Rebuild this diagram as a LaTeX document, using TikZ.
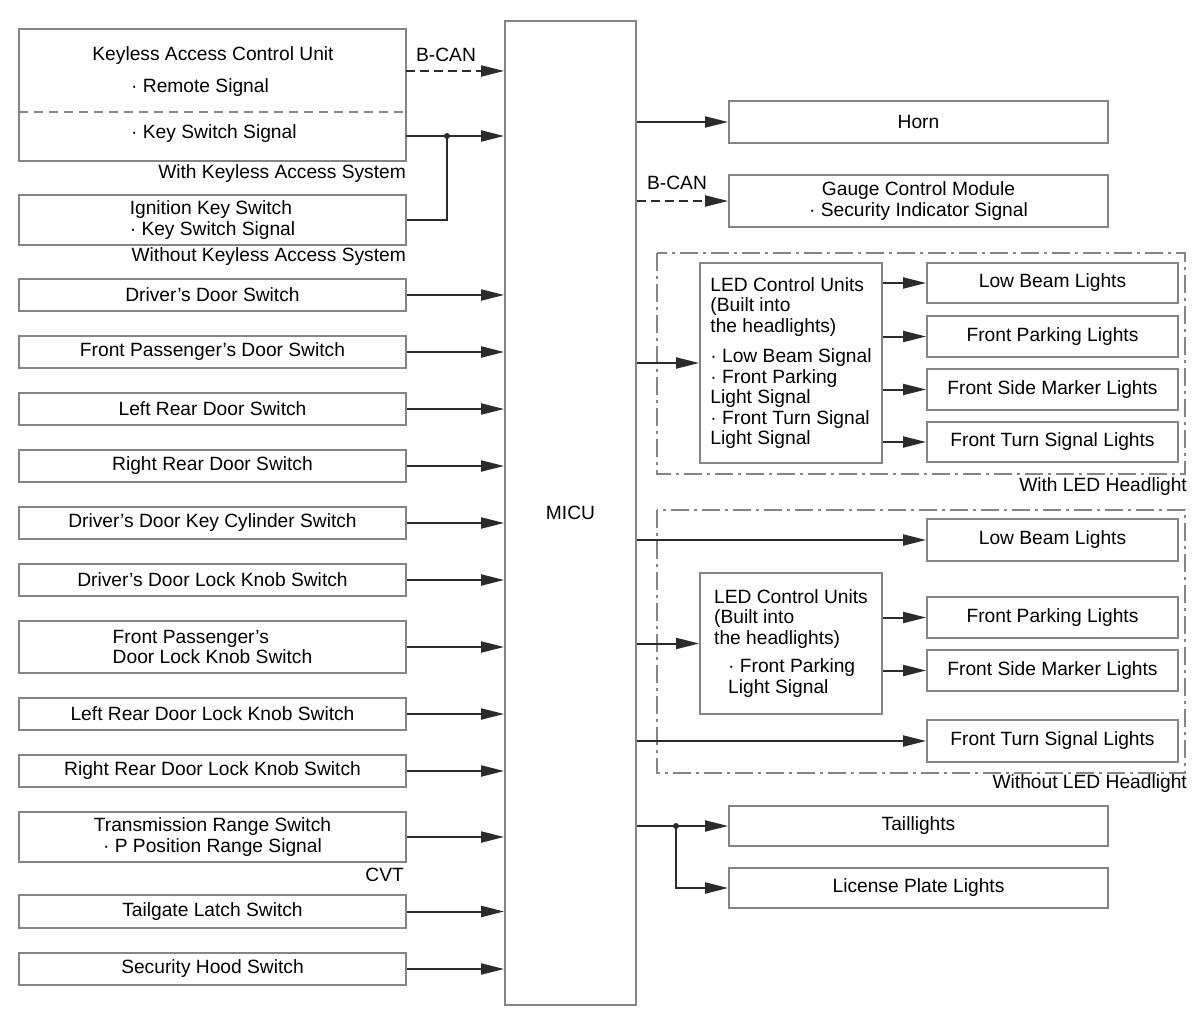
\documentclass[tikz,border=0pt]{standalone}
\usepackage{fontspec}
\setmainfont{Liberation Sans}
\usetikzlibrary{arrows.meta}
\definecolor{boxgray}{HTML}{858585}
\definecolor{linedark}{HTML}{2B2B2B}
\newcommand\fs{\fontsize{19.2}{20.5}\selectfont}
\newcommand\bx[7][]{\node[box,#1,minimum width={#5-#3},minimum height={#6-#4}] (#2) at ({(#3+#5)/2},{(#4+#6)/2}) {#7};}
\begin{document}
\begin{tikzpicture}[x=1pt,y=-1pt,
  box/.style={draw=boxgray,line width=1.8pt,inner sep=0pt,align=center,font=\fs},
  ledbox/.style={align=left},
  lbl/.style={inner sep=0pt,font=\fs},
  arr/.style={draw=linedark,line width=2pt,-{Triangle[length=23pt,width=11pt]}},
  can/.style={arr,dash pattern=on 9pt off 5pt},
  wire/.style={draw=linedark,line width=2pt},
  grp/.style={draw=boxgray,line width=1.5pt,dash pattern=on 18pt off 5pt on 3pt off 5pt},
  jdot/.style={circle,fill=linedark,inner sep=0pt,minimum size=6pt}]
\useasboundingbox (0,0) rectangle (1200,1035);

% MICU
\bx{micu}{505}{21}{636}{1005}{MICU}

% Left side
\bx{kacu}{19}{29}{406}{161}{}
\node[lbl] (kacut) at (213,56) {Keyless Access Control Unit};
\node[lbl,anchor=west] (remote) at (131,88) {· Remote Signal};
\node[lbl,anchor=west] (keysw) at (131,134) {· Key Switch Signal};
\coordinate (divl) at (19,112);
\coordinate (divr) at (406,112);
\draw[boxgray,line width=1.5pt,dash pattern=on 9pt off 6pt] (divl) -- (divr);
\node[lbl,anchor=east] (withkas) at (406,174) {With Keyless Access System};

\bx[align=left]{ign}{19}{195}{406}{245}{Ignition Key Switch\\· Key Switch Signal}
\node[lbl,anchor=east] (withoutkas) at (406,257) {Without Keyless Access System};

\bx{dds}{19}{279}{406}{311}{Driver’s Door Switch}
\bx{fpds}{19}{336}{406}{368}{Front Passenger’s Door Switch}
\bx{lrds}{19}{393}{406}{425}{Left Rear Door Switch}
\bx{rrds}{19}{450}{406}{482}{Right Rear Door Switch}
\bx{ddkc}{19}{507}{406}{539}{Driver’s Door Key Cylinder Switch}
\bx{ddlk}{19}{564}{406}{596}{Driver’s Door Lock Knob Switch}
\bx[align=left]{fplk}{19}{621}{406}{673}{Front Passenger’s\\Door Lock Knob Switch}
\bx{lrlk}{19}{698}{406}{730}{Left Rear Door Lock Knob Switch}
\bx{rrlk}{19}{755}{406}{787}{Right Rear Door Lock Knob Switch}
\bx{trs}{19}{812}{406}{862}{Transmission Range Switch\\· P Position Range Signal}
\node[lbl,anchor=east] (cvt) at (404,875) {CVT};
\bx{tls}{19}{895}{406}{928}{Tailgate Latch Switch}
\bx{shs}{19}{953}{406}{985}{Security Hood Switch}

% Left connectors
\coordinate (canA) at (406,71);
\draw[can] (canA) -- (micu.west |- canA);
\node[lbl] (bcan1) at (446,55) {B-CAN};
\coordinate (ksA) at (406,136);
\coordinate (ksJ) at (447,136);
\draw[arr] (ksA) -- (micu.west |- ksA);
\draw[wire] (ign.east) -| (ksJ);
\node[jdot] (ksdot) at (ksJ) {};
\foreach \n in {dds,fpds,lrds,rrds,ddkc,ddlk,fplk,lrlk,rrlk,trs,tls,shs}
  \draw[arr] (\n.east) -- (micu.west |- \n.east);

% Right side
\bx{horn}{729}{101}{1108}{143}{Horn}
\bx{gauge}{729}{175}{1108}{227}{Gauge Control Module\\· Security Indicator Signal}
\draw[arr] (micu.east |- horn.west) -- (horn.west);
\draw[can] (micu.east |- gauge.west) -- (gauge.west);
\node[lbl] (bcan2) at (677,183) {B-CAN};

% With LED headlight group
\coordinate (g1a) at (657,253);
\coordinate (g1b) at (1185,474);
\draw[grp] (g1a) rectangle (g1b);
\node[lbl,anchor=east] (withled) at (1187,487) {With LED Headlight};
\bx[ledbox]{ledA}{700}{263}{882}{463}{LED Control Units\\(Built into\\the headlights)\\[10pt]· Low Beam Signal\\· Front Parking\\Light Signal\\· Front Turn Signal\\Light Signal}
\bx{lbA}{927}{263}{1178}{303}{Low Beam Lights}
\bx{fpA}{927}{316}{1178}{357}{Front Parking Lights}
\bx{fsA}{927}{369}{1178}{410}{Front Side Marker Lights}
\bx{ftA}{927}{422}{1178}{462}{Front Turn Signal Lights}
\draw[arr] (micu.east |- ledA.west) -- (ledA.west);
\foreach \n in {lbA,fpA,fsA,ftA}
  \draw[arr] (ledA.east |- \n.west) -- (\n.west);

% Without LED headlight group
\coordinate (g2a) at (657,510);
\coordinate (g2b) at (1185,773);
\draw[grp] (g2a) rectangle (g2b);
\node[lbl,anchor=east] (withoutled) at (1187,784) {Without LED Headlight};
\bx{lbB}{927}{519}{1178}{561}{Low Beam Lights}
\bx[ledbox]{ledB}{700}{573}{882}{714}{LED Control Units\\(Built into\\the headlights)\\[8pt]\hspace*{14pt}· Front Parking\\\hspace*{14pt}Light Signal}
\bx{fpB}{927}{597}{1178}{638}{Front Parking Lights}
\bx{fsB}{927}{650}{1178}{691}{Front Side Marker Lights}
\bx{ftB}{927}{720}{1178}{762}{Front Turn Signal Lights}
\draw[arr] (micu.east |- lbB.west) -- (lbB.west);
\draw[arr] (micu.east |- ledB.west) -- (ledB.west);
\draw[arr] (ledB.east |- fpB.west) -- (fpB.west);
\draw[arr] (ledB.east |- fsB.west) -- (fsB.west);
\draw[arr] (micu.east |- ftB.west) -- (ftB.west);

% Tail / license
\bx{tail}{729}{806}{1108}{846}{Taillights}
\bx{lic}{729}{868}{1108}{908}{License Plate Lights}
\coordinate (tJ) at (676,826);
\draw[arr] (micu.east |- tail.west) -- (tail.west);
\draw[arr] (tJ) |- (lic.west);
\node[jdot] (tdot) at (tJ) {};
\end{tikzpicture}
\end{document}
